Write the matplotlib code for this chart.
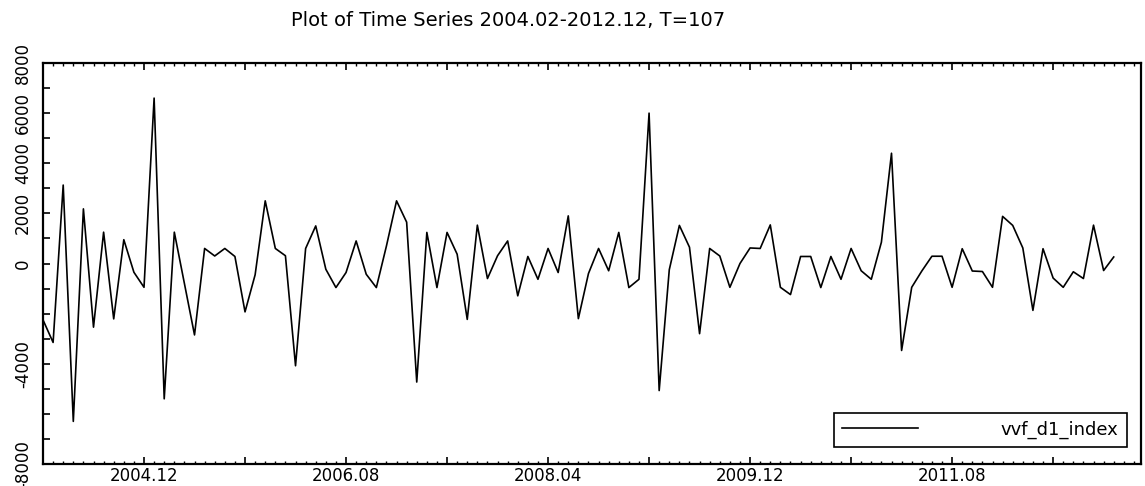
import numpy as np
import matplotlib
matplotlib.use("Agg")
import matplotlib.pyplot as plt
from matplotlib.ticker import MultipleLocator

# monthly values 2004.02 - 2012.12 (T=107)
vvf_d1_index = [
    -2250, -3150, 3130, -6300, 2180, -2540, 1250, -2210, 950, -350,
    -950, 6600, -5400, 1250, -800, -2850, 600, 300, 600, 280,
    -1930, -450, 2500, 600, 310, -4080, 600, 1500, -230, -960,
    -360, 900, -430, -960, 700, 2500, 1650, -4730, 1240, -960,
    1240, 370, -2230, 1530, -600, 310, 900, -1290, 280, -630,
    600, -360, 1900, -2200, -400, 600, -290, 1240, -960, -630,
    6000, -5070, -250, 1520, 650, -2800, 600, 300, -950, 0,
    620, 600, 1540, -950, -1240, 280, 280, -960, 280, -630,
    600, -290, -630, 850, 4400, -3470, -950, -300, 290, 290,
    -950, 590, -300, -320, -950, 1880, 1520, 620, -1870, 590,
    -580, -950, -330, -600, 1530, -280, 260,
]

x_label_pos = [10, 30, 50, 70, 90]
x_labels = ["2004.12", "2006.08", "2008.04", "2009.12", "2011.08"]
y_label_vals = [-8000, -4000, 0, 2000, 4000, 6000, 8000]

title = "Plot of Time Series 2004.02-2012.12, T=107"

t = np.arange(len(vvf_d1_index))

fig = plt.figure(figsize=(11.45, 4.86), dpi=100)
ax = fig.add_axes([43 / 1145, 22 / 486, 1098 / 1145, 401 / 486])

ax.plot(t, vvf_d1_index, color="black", lw=1.2, label="vvf_d1_index")

ax.set_xlim(0, 108.7)
ax.set_ylim(-8000, 8000)

# x ticks: major every 10 months, minor monthly, labels every 20 months
major_x = list(range(0, 109, 10))
ax.set_xticks(major_x)
ax.set_xticklabels([x_labels[x_label_pos.index(p)] if p in x_label_pos else "" for p in major_x])
ax.xaxis.set_minor_locator(MultipleLocator(1))
ax.tick_params(axis="x", which="both", direction="in", top=True, bottom=True,
               labelsize=12, pad=2)
ax.tick_params(axis="x", which="major", length=5, width=1.2)
ax.tick_params(axis="x", which="minor", length=2.5, width=1)

# y ticks every 1000, labels only on some
yt = list(range(-8000, 8001, 1000))
ax.set_yticks(yt)
ax.set_yticklabels([str(v) if v in y_label_vals else "" for v in yt],
                   rotation=90, va="center")
ax.tick_params(axis="y", which="major", direction="in", length=5, width=1.2,
               labelsize=12, pad=8, right=False)

for s in ax.spines.values():
    s.set_linewidth(1.6)

fig.text(508 / 1145, 1 - 20 / 486, title, ha="center", va="center", fontsize=14)

leg = ax.legend(loc="lower right", bbox_to_anchor=(0.987, 0.042), borderaxespad=0,
                frameon=True, fancybox=False, edgecolor="black", framealpha=1,
                fontsize=13, handlelength=4.2, handletextpad=4.6, borderpad=0.45)
leg.get_frame().set_linewidth(1.2)

fig.savefig("out.png", dpi=100)
